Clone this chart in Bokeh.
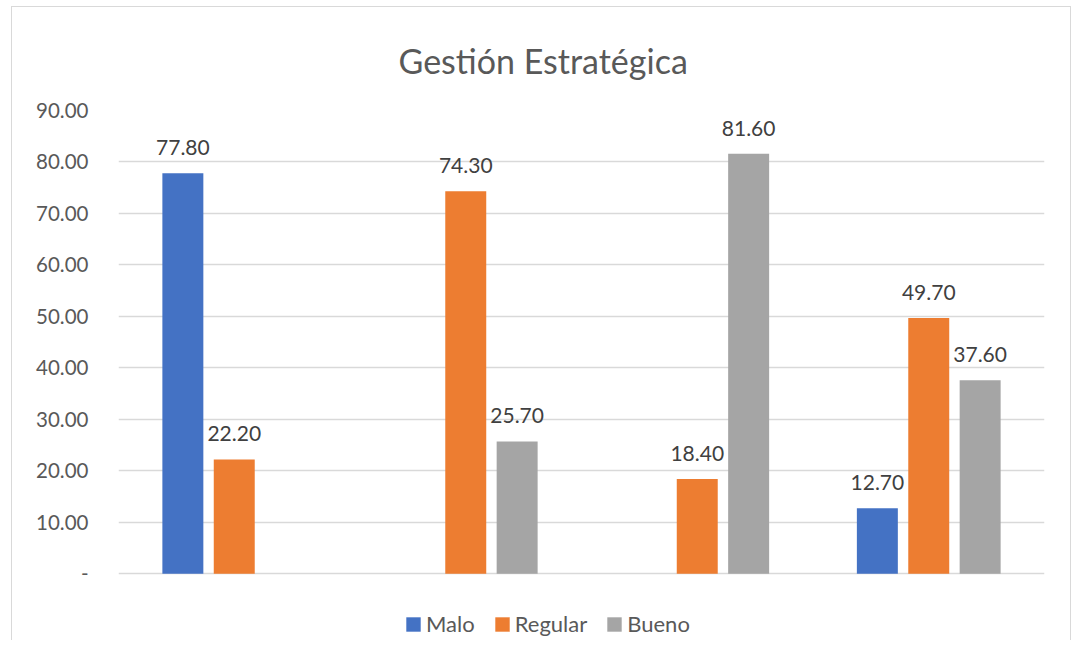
from bokeh.plotting import figure
from bokeh.models import ColumnDataSource, Legend, LegendItem, Title, NumeralTickFormatter, FixedTicker, Range1d
from bokeh.transform import dodge
from bokeh.core.properties import value
from bokeh.embed import file_html
from bokeh.resources import INLINE

# data
groups = [0, 1, 2, 3]
series = ["Malo", "Regular", "Bueno"]
malo = [77.8, None, None, 12.7]
regular = [22.2, 74.3, 18.4, 49.7]
bueno = [None, 25.7, 81.6, 37.6]
colors = ["#4472C4", "#ED7D31", "#A5A5A5"]
y_ticks = [0, 10, 20, 30, 40, 50, 60, 70, 80, 90]
title_text = "Gestión Estratégica"

FONT = "Lato"
TXT = "#595959"

# frame extends below zero to leave room for the legend inside the plot area
p = figure(width=1060, height=634, output_backend="svg", toolbar_location=None,
           x_range=Range1d(-0.5, 3.5), y_range=Range1d(-13.19, 90),
           x_axis_location=None, min_border_left=106, min_border_right=28,
           min_border_top=93, min_border_bottom=0)
p.styles = {"margin-left": "11px", "margin-top": "6px",
            "border-left": "1.5px solid #D9D9D9", "border-top": "1.5px solid #D9D9D9",
            "border-right": "1.5px solid #D9D9D9"}
p.outline_line_color = None
p.xgrid.visible = False
p.ygrid.grid_line_color = "#D9D9D9"
p.ygrid.grid_line_width = 1.3
p.yaxis.ticker = FixedTicker(ticks=y_ticks)
p.ygrid.ticker = FixedTicker(ticks=y_ticks)
p.yaxis.formatter = NumeralTickFormatter(format="0.00")
p.yaxis.major_label_overrides = {0: "-"}
p.yaxis.axis_line_color = None
p.yaxis.major_tick_line_color = None
p.yaxis.minor_tick_line_color = None
p.yaxis.major_label_text_font = FONT
p.yaxis.major_label_text_font_size = "20.5px"
p.yaxis.major_label_text_color = TXT
p.yaxis.major_label_standoff = 24

offsets = [-0.222, 0.0, 0.222]
items = []
for name, vals, col, off in zip(series, [malo, regular, bueno], colors, offsets):
    xs = [g for g, v in zip(groups, vals) if v is not None]
    ys = [v for v in vals if v is not None]
    src = ColumnDataSource(dict(x=xs, y=ys, lab=["%.2f" % v for v in ys]))
    r = p.vbar(x=dodge("x", off), top="y", width=0.177, bottom=0, source=src,
               fill_color=col, line_color=None)
    p.text(x=dodge("x", off), y="y", text="lab", source=src, text_align="center",
           text_baseline="bottom", y_offset=-18, text_font=value(FONT),
           text_font_size="21px", text_color="#404040")
    items.append(LegendItem(label=name, renderers=[r]))

legend = Legend(items=items, orientation="horizontal", location=(286, 4),
                label_text_font=FONT, label_text_font_size="22px", label_text_color=TXT,
                glyph_width=18, glyph_height=18, spacing=18, padding=0, margin=0,
                label_standoff=4, border_line_color=None, background_fill_alpha=0)
p.add_layout(legend, "center")

p.add_layout(Title(text=title_text, align="left", offset=280, standoff=60,
                   text_font=FONT, text_font_size="34px", text_font_style="normal",
                   text_color=TXT), "above")

open("out.html", "w").write(file_html(p, INLINE))
